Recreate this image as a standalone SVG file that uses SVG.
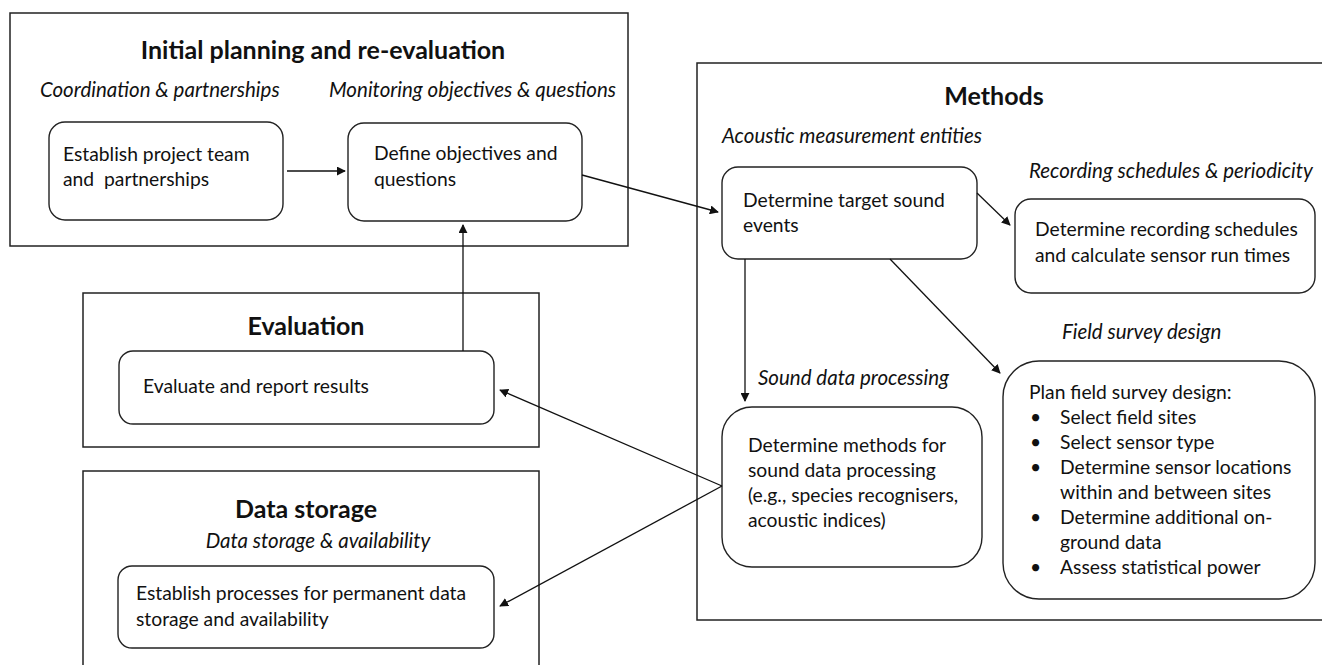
<svg xmlns="http://www.w3.org/2000/svg" width="1322" height="665" viewBox="0 0 1322 665">
<defs>
<style>
.frame{fill:#fff;stroke:#222;stroke-width:1.5}
.node{fill:#fff;stroke:#222;stroke-width:1.4}
.t{font-family:Lato,"Open Sans","Liberation Sans",sans-serif;font-size:19.3px;fill:#111;white-space:pre}
.h{font-family:Lato,"Open Sans","Liberation Sans",sans-serif;font-size:25px;font-weight:bold;fill:#111;text-anchor:middle}
.i{font-family:Lato,"Open Sans","Liberation Sans",sans-serif;font-size:20.5px;font-style:italic;fill:#111}
.c{fill:none;stroke:#111;stroke-width:1.3;marker-end:url(#ah)}
</style>
<marker id="ah" viewBox="0 0 10 10" refX="9" refY="5" markerWidth="9" markerHeight="9" markerUnits="userSpaceOnUse" orient="auto">
<path d="M0,0 L10,5 L0,10 z" fill="#111"/>
</marker>
</defs>
<rect width="1322" height="665" fill="#fff"/>

<g id="planning">
<rect class="frame" x="10" y="13" width="618" height="233"/>
<text class="h" x="323" y="59">Initial planning and re-evaluation</text>
<text class="i" x="40" y="97">Coordination &amp; partnerships</text>
<text class="i" x="329" y="97">Monitoring objectives &amp; questions</text>
</g>
<g id="methods">
<rect class="frame" x="697" y="63" width="630" height="557"/>
<text class="h" x="994" y="105">Methods</text>
<text class="i" x="722" y="143">Acoustic measurement entities</text>
<text class="i" x="1029" y="178">Recording schedules &amp; periodicity</text>
<text class="i" x="1062" y="339">Field survey design</text>
<text class="i" x="758" y="385">Sound data processing</text>
</g>
<g id="evaluation">
<rect class="frame" x="83" y="293" width="456" height="154"/>
<text class="h" x="306" y="335">Evaluation</text>
</g>
<g id="storage">
<rect class="frame" x="83" y="471" width="456" height="200"/>
<text class="h" x="306" y="518">Data storage</text>
<text class="i" x="318" y="548" text-anchor="middle">Data storage &amp; availability</text>
</g>

<g id="n-team">
<rect class="node" x="49" y="122" width="234" height="98" rx="16"/>
<text class="t" x="63" y="161">Establish project team</text>
<text class="t" x="63" y="186" xml:space="preserve">and  partnerships</text>
</g>
<g id="n-objectives">
<rect class="node" x="348" y="123" width="234" height="98" rx="16"/>
<text class="t" x="374" y="160">Define objectives and</text>
<text class="t" x="374" y="186">questions</text>
</g>
<g id="n-target">
<rect class="node" x="722" y="167" width="255" height="92" rx="16"/>
<text class="t" x="743" y="207">Determine target sound</text>
<text class="t" x="743" y="232">events</text>
</g>
<g id="n-schedules">
<rect class="node" x="1015" y="199" width="300" height="94" rx="16"/>
<text class="t" x="1035" y="236">Determine recording schedules</text>
<text class="t" x="1035" y="262">and calculate sensor run times</text>
</g>
<g id="n-processing">
<rect class="node" x="722" y="407" width="260" height="160" rx="30"/>
<text class="t" x="748" y="452">Determine methods for</text>
<text class="t" x="748" y="477">sound data processing</text>
<text class="t" x="748" y="502">(e.g., species recognisers,</text>
<text class="t" x="748" y="527">acoustic indices)</text>
</g>
<g id="n-field">
<rect class="node" x="1003" y="361" width="312" height="238" rx="36"/>
<text class="t" x="1029" y="399">Plan field survey design:</text>
<text class="t" x="1030" y="424">•</text><text class="t" x="1060" y="424">Select field sites</text>
<text class="t" x="1030" y="449">•</text><text class="t" x="1060" y="449">Select sensor type</text>
<text class="t" x="1030" y="474">•</text><text class="t" x="1060" y="474">Determine sensor locations</text>
<text class="t" x="1060" y="499">within and between sites</text>
<text class="t" x="1030" y="524">•</text><text class="t" x="1060" y="524">Determine additional on-</text>
<text class="t" x="1060" y="549">ground data</text>
<text class="t" x="1030" y="574">•</text><text class="t" x="1060" y="574">Assess statistical power</text>
</g>
<g id="n-evaluate">
<rect class="node" x="119" y="351" width="375" height="73" rx="14"/>
<text class="t" x="143" y="393">Evaluate and report results</text>
</g>
<g id="n-datastore">
<rect class="node" x="118" y="566" width="376" height="82" rx="14"/>
<text class="t" x="136" y="600">Establish processes for permanent data</text>
<text class="t" x="136" y="626">storage and availability</text>
</g>

<g id="connectors">
<line class="c" x1="287" y1="171" x2="345" y2="171"/>
<line class="c" x1="582" y1="175" x2="718" y2="212"/>
<line class="c" x1="463" y1="351" x2="463" y2="225"/>
<line class="c" x1="977" y1="193" x2="1010" y2="225"/>
<line class="c" x1="745" y1="259" x2="745" y2="401"/>
<line class="c" x1="890" y1="259" x2="1000" y2="373"/>
<line class="c" x1="722" y1="486" x2="500" y2="390"/>
<line class="c" x1="722" y1="486" x2="500" y2="606"/>
</g>
</svg>
